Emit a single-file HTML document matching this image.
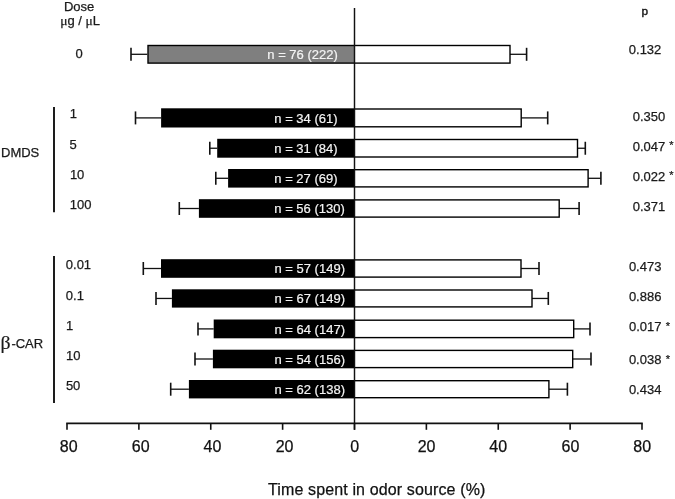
<!DOCTYPE html>
<html><head><meta charset="utf-8"><style>
html,body{margin:0;padding:0;background:#fff;}
svg{display:block;will-change:transform;}
text{font-family:"Liberation Sans",sans-serif;}
.s{font-size:13px;fill:#1a1a1a;stroke:#1a1a1a;stroke-width:0.25px;}
.n{font-size:13px;fill:#f4f4f4;stroke:#f4f4f4;stroke-width:0.2px;}
.t{font-size:16px;fill:#111;stroke:#111;stroke-width:0.25px;}
.w{stroke:#111;stroke-width:1.3;}
.c{stroke:#111;stroke-width:1.6;}
.ax{stroke:#111;stroke-width:1.6;}
</style></head><body>
<svg width="675" height="499" viewBox="0 0 675 499">
<rect width="675" height="499" fill="#fff"/>
<text x="79.1" y="10.6" text-anchor="middle" class="s">Dose</text>
<text x="80.2" y="24.8" text-anchor="middle" class="s"><tspan style="font-family:'Liberation Serif',serif;font-size:13.5px">&#956;</tspan>g / <tspan style="font-family:'Liberation Serif',serif;font-size:13.5px">&#956;</tspan>L</text>
<text x="641.5" y="14.5" class="s" style="font-size:11.8px;stroke-width:0.45px">p</text>
<text x="1.0" y="157.4" class="s">DMDS</text>
<text x="0.6" y="349.2" style="font-family:'Liberation Serif',serif;font-size:19.8px;fill:#1a1a1a;stroke:#1a1a1a;stroke-width:0.2px">&#946;</text>
<text x="11.4" y="347.5" class="s">-CAR</text>
<line x1="54" y1="107" x2="54" y2="212.3" stroke="#111" stroke-width="1.9"/>
<line x1="54" y1="256" x2="54" y2="403" stroke="#111" stroke-width="1.9"/>
<line x1="66.2" y1="423.4" x2="642.8" y2="423.4" class="ax"/>
<line x1="131.0" y1="54.30" x2="147.3" y2="54.30" class="w"/>
<line x1="131.0" y1="47.80" x2="131.0" y2="60.80" class="c"/>
<line x1="510.0" y1="54.30" x2="526.6" y2="54.30" class="w"/>
<line x1="526.6" y1="47.80" x2="526.6" y2="60.80" class="c"/>
<rect x="147.30" y="44.80" width="207.20" height="19.00" fill="#000"/>
<rect x="148.70" y="46.20" width="205.80" height="16.20" fill="#7f7f7f"/>
<rect x="354.50" y="44.80" width="156.20" height="19.00" fill="#000"/>
<rect x="354.50" y="46.20" width="154.80" height="16.20" fill="#fff"/>
<text x="267.3" y="58.90" class="n">n = 76 (222)</text>
<line x1="135.5" y1="117.90" x2="161.1" y2="117.90" class="w"/>
<line x1="135.5" y1="111.40" x2="135.5" y2="124.40" class="c"/>
<line x1="521.2" y1="117.90" x2="547.7" y2="117.90" class="w"/>
<line x1="547.7" y1="111.40" x2="547.7" y2="124.40" class="c"/>
<rect x="161.10" y="108.30" width="193.40" height="19.20" fill="#000"/>
<rect x="354.50" y="108.30" width="167.40" height="19.20" fill="#000"/>
<rect x="354.50" y="109.70" width="166.00" height="16.40" fill="#fff"/>
<text x="274.3" y="122.50" class="n">n = 34 (61)</text>
<line x1="209.8" y1="148.25" x2="217.2" y2="148.25" class="w"/>
<line x1="209.8" y1="141.75" x2="209.8" y2="154.75" class="c"/>
<line x1="577.5" y1="148.25" x2="585.3" y2="148.25" class="w"/>
<line x1="585.3" y1="141.75" x2="585.3" y2="154.75" class="c"/>
<rect x="217.20" y="138.80" width="137.30" height="18.90" fill="#000"/>
<rect x="354.50" y="138.80" width="223.70" height="18.90" fill="#000"/>
<rect x="354.50" y="140.20" width="222.30" height="16.10" fill="#fff"/>
<text x="274.3" y="152.85" class="n">n = 31 (84)</text>
<line x1="215.8" y1="178.30" x2="228.1" y2="178.30" class="w"/>
<line x1="215.8" y1="171.80" x2="215.8" y2="184.80" class="c"/>
<line x1="588.1" y1="178.30" x2="600.9" y2="178.30" class="w"/>
<line x1="600.9" y1="171.80" x2="600.9" y2="184.80" class="c"/>
<rect x="228.10" y="169.00" width="126.40" height="18.60" fill="#000"/>
<rect x="354.50" y="169.00" width="234.30" height="18.60" fill="#000"/>
<rect x="354.50" y="170.40" width="232.90" height="15.80" fill="#fff"/>
<text x="274.3" y="182.90" class="n">n = 27 (69)</text>
<line x1="179.3" y1="208.50" x2="198.9" y2="208.50" class="w"/>
<line x1="179.3" y1="202.00" x2="179.3" y2="215.00" class="c"/>
<line x1="559.2" y1="208.50" x2="579.1" y2="208.50" class="w"/>
<line x1="579.1" y1="202.00" x2="579.1" y2="215.00" class="c"/>
<rect x="198.90" y="199.20" width="155.60" height="18.60" fill="#000"/>
<rect x="354.50" y="199.20" width="205.40" height="18.60" fill="#000"/>
<rect x="354.50" y="200.60" width="204.00" height="15.80" fill="#fff"/>
<text x="274.3" y="213.10" class="n">n = 56 (130)</text>
<line x1="143.3" y1="268.50" x2="161.0" y2="268.50" class="w"/>
<line x1="143.3" y1="262.00" x2="143.3" y2="275.00" class="c"/>
<line x1="521.0" y1="268.50" x2="539.0" y2="268.50" class="w"/>
<line x1="539.0" y1="262.00" x2="539.0" y2="275.00" class="c"/>
<rect x="161.00" y="259.20" width="193.50" height="18.60" fill="#000"/>
<rect x="354.50" y="259.20" width="167.20" height="18.60" fill="#000"/>
<rect x="354.50" y="260.60" width="165.80" height="15.80" fill="#fff"/>
<text x="274.5" y="273.10" class="n">n = 57 (149)</text>
<line x1="156.0" y1="298.45" x2="171.9" y2="298.45" class="w"/>
<line x1="156.0" y1="291.95" x2="156.0" y2="304.95" class="c"/>
<line x1="532.0" y1="298.45" x2="548.3" y2="298.45" class="w"/>
<line x1="548.3" y1="291.95" x2="548.3" y2="304.95" class="c"/>
<rect x="171.90" y="289.30" width="182.60" height="18.30" fill="#000"/>
<rect x="354.50" y="289.30" width="178.20" height="18.30" fill="#000"/>
<rect x="354.50" y="290.70" width="176.80" height="15.50" fill="#fff"/>
<text x="274.5" y="303.05" class="n">n = 67 (149)</text>
<line x1="198.0" y1="328.90" x2="213.7" y2="328.90" class="w"/>
<line x1="198.0" y1="322.40" x2="198.0" y2="335.40" class="c"/>
<line x1="573.7" y1="328.90" x2="590.0" y2="328.90" class="w"/>
<line x1="590.0" y1="322.40" x2="590.0" y2="335.40" class="c"/>
<rect x="213.70" y="319.50" width="140.80" height="18.80" fill="#000"/>
<rect x="354.50" y="319.50" width="219.90" height="18.80" fill="#000"/>
<rect x="354.50" y="320.90" width="218.50" height="16.00" fill="#fff"/>
<text x="274.5" y="333.50" class="n">n = 64 (147)</text>
<line x1="195.0" y1="359.00" x2="212.9" y2="359.00" class="w"/>
<line x1="195.0" y1="352.50" x2="195.0" y2="365.50" class="c"/>
<line x1="572.7" y1="359.00" x2="591.0" y2="359.00" class="w"/>
<line x1="591.0" y1="352.50" x2="591.0" y2="365.50" class="c"/>
<rect x="212.90" y="349.70" width="141.60" height="18.60" fill="#000"/>
<rect x="354.50" y="349.70" width="218.90" height="18.60" fill="#000"/>
<rect x="354.50" y="351.10" width="217.50" height="15.80" fill="#fff"/>
<text x="274.5" y="363.60" class="n">n = 54 (156)</text>
<line x1="170.7" y1="389.20" x2="188.9" y2="389.20" class="w"/>
<line x1="170.7" y1="382.70" x2="170.7" y2="395.70" class="c"/>
<line x1="548.9" y1="389.20" x2="567.4" y2="389.20" class="w"/>
<line x1="567.4" y1="382.70" x2="567.4" y2="395.70" class="c"/>
<rect x="188.90" y="380.00" width="165.60" height="18.40" fill="#000"/>
<rect x="354.50" y="380.00" width="195.10" height="18.40" fill="#000"/>
<rect x="354.50" y="381.40" width="193.70" height="15.60" fill="#fff"/>
<text x="274.5" y="393.80" class="n">n = 62 (138)</text>
<text x="79.0" y="58.2" text-anchor="middle" class="s">0</text>
<text x="69.7" y="118.0" text-anchor="start" class="s">1</text>
<text x="69.5" y="148.9" text-anchor="start" class="s">5</text>
<text x="69.9" y="178.8" text-anchor="start" class="s">10</text>
<text x="69.7" y="208.6" text-anchor="start" class="s">100</text>
<text x="65.8" y="269.2" text-anchor="start" class="s">0.01</text>
<text x="65.8" y="299.5" text-anchor="start" class="s">0.1</text>
<text x="65.9" y="329.6" text-anchor="start" class="s">1</text>
<text x="66.0" y="359.6" text-anchor="start" class="s">10</text>
<text x="65.9" y="389.6" text-anchor="start" class="s">50</text>
<text x="628.8" y="53.8" class="s">0.132</text>
<text x="632.7" y="120.9" class="s">0.350</text>
<text x="632.7" y="150.6" class="s">0.047</text>
<text x="632.7" y="180.6" class="s">0.022</text>
<text x="632.7" y="210.9" class="s">0.371</text>
<text x="628.9" y="270.9" class="s">0.473</text>
<text x="628.9" y="301.1" class="s">0.886</text>
<text x="629.0" y="331.4" class="s">0.017</text>
<text x="628.9" y="363.7" class="s">0.038</text>
<text x="628.9" y="394.1" class="s">0.434</text>
<text x="671.4" y="149.4" text-anchor="middle" class="s" style="font-size:11px">*</text>
<text x="671.4" y="179.0" text-anchor="middle" class="s" style="font-size:11px">*</text>
<text x="668.0" y="330.3" text-anchor="middle" class="s" style="font-size:11px">*</text>
<text x="668.0" y="362.9" text-anchor="middle" class="s" style="font-size:11px">*</text>
<line x1="67.00" y1="423.4" x2="67.00" y2="429.8" class="ax"/>
<text x="68.65" y="451.8" text-anchor="middle" class="t">80</text>
<line x1="138.88" y1="423.4" x2="138.88" y2="429.8" class="ax"/>
<text x="140.70" y="451.8" text-anchor="middle" class="t">60</text>
<line x1="210.75" y1="423.4" x2="210.75" y2="429.8" class="ax"/>
<text x="212.50" y="451.8" text-anchor="middle" class="t">40</text>
<line x1="282.62" y1="423.4" x2="282.62" y2="429.8" class="ax"/>
<text x="284.60" y="451.8" text-anchor="middle" class="t">20</text>
<line x1="354.50" y1="423.4" x2="354.50" y2="429.8" class="ax"/>
<text x="354.60" y="451.8" text-anchor="middle" class="t">0</text>
<line x1="426.38" y1="423.4" x2="426.38" y2="429.8" class="ax"/>
<text x="426.60" y="451.8" text-anchor="middle" class="t">20</text>
<line x1="498.25" y1="423.4" x2="498.25" y2="429.8" class="ax"/>
<text x="498.20" y="451.8" text-anchor="middle" class="t">40</text>
<line x1="570.12" y1="423.4" x2="570.12" y2="429.8" class="ax"/>
<text x="570.50" y="451.8" text-anchor="middle" class="t">60</text>
<line x1="642.00" y1="423.4" x2="642.00" y2="429.8" class="ax"/>
<text x="642.20" y="451.8" text-anchor="middle" class="t">80</text>
<line x1="354.5" y1="8" x2="354.5" y2="429.8" stroke="#111" stroke-width="1.45"/>
<text x="268" y="494.5" class="t" style="letter-spacing:0.13px">Time spent in odor source (%)</text>
</svg>
</body></html>
